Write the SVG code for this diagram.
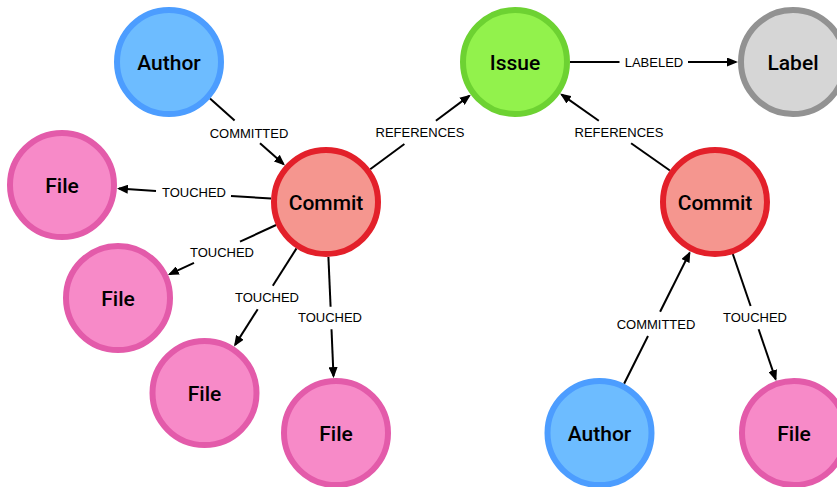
<svg xmlns="http://www.w3.org/2000/svg" width="837" height="487" viewBox="0 0 837 487">
  <style>
    .node circle { stroke-width: 6; }
    .node text { font-family: Roboto, "Liberation Sans", Arial, sans-serif; font-weight: 500; font-size: 21px; fill: #000; text-anchor: middle; }
    .author circle { fill: #6DBCFF; stroke: #4C9DFF; }
    .issue circle { fill: #92F24C; stroke: #6DD232; }
    .label circle { fill: #D6D6D6; stroke: #929292; }
    .commit circle { fill: #F5968F; stroke: #E3202A; }
    .file circle { fill: #F78AC8; stroke: #E35BAA; }
    .edges line { stroke: #000; stroke-width: 2; fill: none; }
    .edges line.head { marker-end: url(#arrow); }
    .edges text { font-family: "Liberation Sans", Arial, sans-serif; font-size: 13px; fill: #000; text-anchor: middle; }
  </style>
  <defs>
    <marker id="arrow" markerUnits="userSpaceOnUse" markerWidth="11" markerHeight="9" viewBox="0 0 11 9" refX="9" refY="4.5" orient="auto">
      <path d="M0,0 L11,4.5 L0,9 z" fill="#000"/>
    </marker>
  </defs>
  <rect width="837" height="487" fill="#fff"/>

  <g id="edges" class="edges">
    <!-- Author -> Commit (left) -->
    <line x1="210" y1="98.6" x2="234.6" y2="120.6"/>
    <line class="head" x1="260" y1="143.2" x2="283.5" y2="164.1"/>
    <text x="249" y="137.5">COMMITTED</text>
    <!-- Commit -> File 1 -->
    <line x1="271.1" y1="198.5" x2="231" y2="195.9"/>
    <line class="head" x1="156" y1="191.1" x2="118.9" y2="188.6"/>
    <text x="194" y="196.5">TOUCHED</text>
    <!-- Commit -> File 2 -->
    <line x1="276.1" y1="225" x2="240" y2="241.7"/>
    <line class="head" x1="194" y1="262.9" x2="169.7" y2="274.2"/>
    <text x="222" y="257">TOUCHED</text>
    <!-- Commit -> File 3 -->
    <line x1="296.5" y1="248.4" x2="272.8" y2="285.7"/>
    <line class="head" x1="257.7" y1="309.3" x2="235.1" y2="344.9"/>
    <text x="267" y="302">TOUCHED</text>
    <!-- Commit -> File 4 -->
    <line x1="328.4" y1="256.9" x2="330.6" y2="306.7"/>
    <line class="head" x1="331.5" y1="329.3" x2="333.5" y2="376.1"/>
    <text x="330" y="322">TOUCHED</text>
    <!-- Commit (left) -> Issue -->
    <line x1="370.2" y1="169.3" x2="404.4" y2="144"/>
    <line class="head" x1="435.9" y1="120.7" x2="469.2" y2="95.9"/>
    <text x="420" y="137">REFERENCES</text>
    <!-- Issue -> Label -->
    <line x1="570" y1="62" x2="619.5" y2="62"/>
    <line class="head" x1="688" y1="62" x2="736" y2="62"/>
    <text x="654" y="67">LABELED</text>
    <!-- Commit (right) -> Issue -->
    <line x1="669.9" y1="170.5" x2="631.1" y2="143.3"/>
    <line class="head" x1="598.8" y1="120.7" x2="561.7" y2="94.6"/>
    <text x="619" y="137">REFERENCES</text>
    <!-- Author -> Commit (right) -->
    <line x1="624.1" y1="383.8" x2="648" y2="336"/>
    <line class="head" x1="660.1" y1="311.7" x2="689.5" y2="253"/>
    <text x="656" y="329">COMMITTED</text>
    <!-- Commit (right) -> File -->
    <line x1="732.8" y1="254" x2="750.6" y2="306"/>
    <line class="head" x1="758.6" y1="329.3" x2="775.6" y2="379.1"/>
    <text x="755" y="322">TOUCHED</text>
  </g>

  <g id="author1" class="node author">
    <circle cx="169" cy="62" r="52"/>
    <text x="169" y="69.5">Author</text>
  </g>
  <g id="issue" class="node issue">
    <circle cx="515" cy="62" r="52"/>
    <text x="515" y="69.5">Issue</text>
  </g>
  <g id="label" class="node label">
    <circle cx="793" cy="62" r="52"/>
    <text x="793" y="69.5">Label</text>
  </g>
  <g id="commit1" class="node commit">
    <circle cx="326" cy="202" r="52"/>
    <text x="326" y="209.5">Commit</text>
  </g>
  <g id="commit2" class="node commit">
    <circle cx="715" cy="202" r="52"/>
    <text x="715" y="209.5">Commit</text>
  </g>
  <g id="file1" class="node file">
    <circle cx="62" cy="185" r="52"/>
    <text x="62" y="192.5">File</text>
  </g>
  <g id="file2" class="node file">
    <circle cx="118" cy="298" r="52"/>
    <text x="118" y="305.5">File</text>
  </g>
  <g id="file3" class="node file">
    <circle cx="204.5" cy="393" r="52"/>
    <text x="204.5" y="400.5">File</text>
  </g>
  <g id="file4" class="node file">
    <circle cx="336" cy="433" r="52"/>
    <text x="336" y="440.5">File</text>
  </g>
  <g id="author2" class="node author">
    <circle cx="599.5" cy="433" r="52"/>
    <text x="599.5" y="440.5">Author</text>
  </g>
  <g id="file5" class="node file">
    <circle cx="794" cy="433" r="52"/>
    <text x="794" y="440.5">File</text>
  </g>
</svg>
